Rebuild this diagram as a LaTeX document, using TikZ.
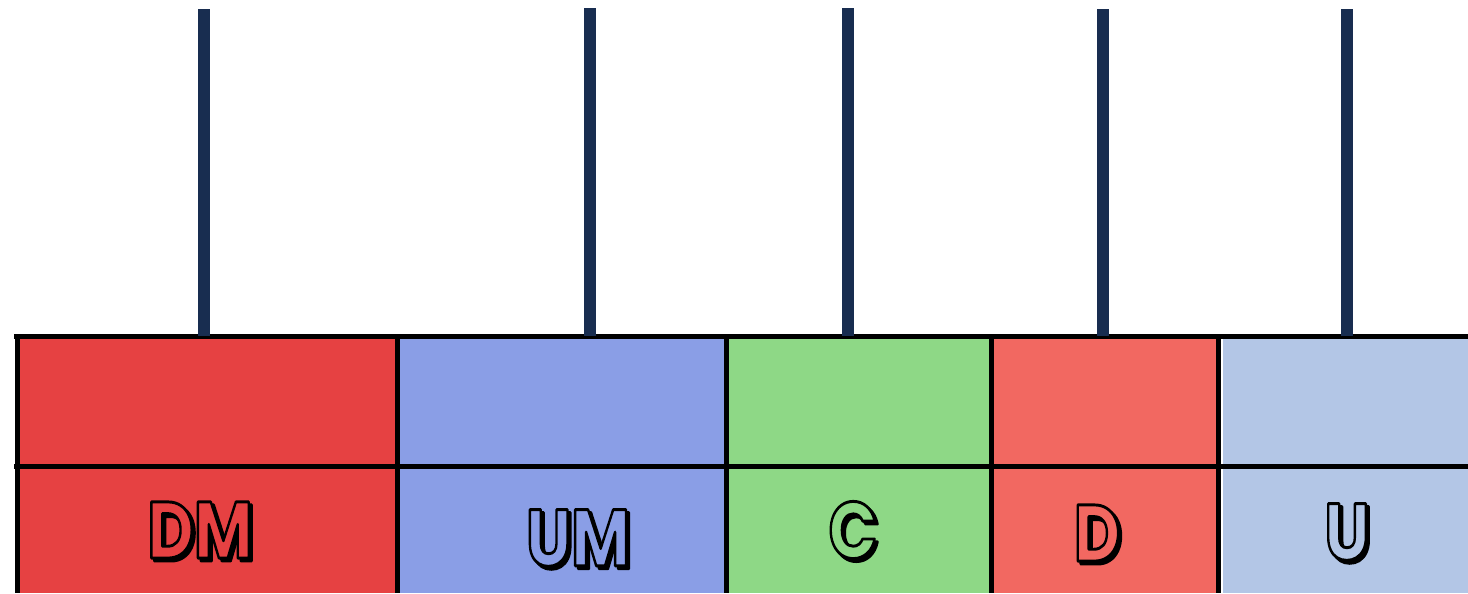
\documentclass[tikz,border=0pt]{standalone}
\usepackage{fontspec}
\usepackage{graphicx}
\newfontfamily\cartoonfont{Poppins}
\definecolor{dmred}{RGB}{230,65,66}
\definecolor{umblue}{RGB}{138,158,230}
\definecolor{cgreen}{RGB}{142,216,134}
\definecolor{dsalmon}{RGB}{242,104,97}
\definecolor{ulblue}{RGB}{179,198,230}
\definecolor{rodnavy}{RGB}{24,45,80}
\tikzset{
  grid line/.style={line width=3.75pt, black},
  rod/.style={line width=8.5pt, rodnavy},
  lblfont/.style={inner sep=0pt, font=\cartoonfont\bfseries\fontsize{60}{60}\selectfont},
}
\newcommand\outlined[1]{\special{pdf:literal direct 2 Tr 2.2 w 1 j 0 0 0 RG}#1\special{pdf:literal direct 0 Tr}}
\newcommand\cartoonlbl[4]{%
  \node[lblfont, text=black, xshift=2.2pt, yshift=-2.2pt] (#1s) at (#2) {\scalebox{0.8}[1]{\outlined{#3}}};
  \node[lblfont, text=#4] (#1) at (#2) {\scalebox{0.8}[1]{\outlined{#3}}};}
\begin{document}
\begin{tikzpicture}[x=0.75pt, y=-0.75pt]
\useasboundingbox (0,0) rectangle (1468,593);
% cells
\fill[dmred] (17,336) rectangle (397,593);
\fill[umblue] (397,336) rectangle (726,593);
\fill[cgreen] (726,336) rectangle (991,593);
\fill[dsalmon] (991,336) rectangle (1218,593);
\fill[ulblue] (1218,336) rectangle (1468,593);
\draw[white, line width=1.5pt] (1221.5,338) -- (1221.5,593);
% cell nodes
\node[inner sep=0, minimum width=380*0.75pt, minimum height=130*0.75pt] (dmtop) at (207,401) {};
\node[inner sep=0, minimum width=329*0.75pt, minimum height=130*0.75pt] (umtop) at (561.5,401) {};
\node[inner sep=0, minimum width=265*0.75pt, minimum height=130*0.75pt] (ctop) at (858.5,401) {};
\node[inner sep=0, minimum width=227*0.75pt, minimum height=130*0.75pt] (dtop) at (1104.5,401) {};
\node[inner sep=0, minimum width=250*0.75pt, minimum height=130*0.75pt] (utop) at (1343,401) {};
% grid lines
\draw[grid line] (14,336) -- (1468,336);
\draw[grid line] (14,466) -- (1468,466);
\draw[grid line] (17,334) -- (17,593);
\draw[grid line] (397,334) -- (397,593);
\draw[grid line] (726,334) -- (726,593);
\draw[grid line] (991,334) -- (991,593);
\draw[grid line] (1218,334) -- (1218,593);
% rods
\coordinate (r1) at (204,9);
\coordinate (r2) at (590,8);
\coordinate (r3) at (848,8);
\coordinate (r4) at (1103,9);
\coordinate (r5) at (1347,9);
\draw[rod] (r1) -- (r1 |- dmtop.north);
\draw[rod] (r2) -- (r2 |- umtop.north);
\draw[rod] (r3) -- (r3 |- ctop.north);
\draw[rod] (r4) -- (r4 |- dtop.north);
\draw[rod] (r5) -- (r5 |- utop.north);
% labels
\cartoonlbl{ldm}{200,530}{DM}{dmred}
\cartoonlbl{lum}{578,538}{UM}{umblue}
\cartoonlbl{lc}{853,530}{C}{cgreen}
\cartoonlbl{ld}{1097,533}{D}{dsalmon}
\cartoonlbl{lu}{1347,532}{U}{ulblue}
\end{tikzpicture}
\end{document}
